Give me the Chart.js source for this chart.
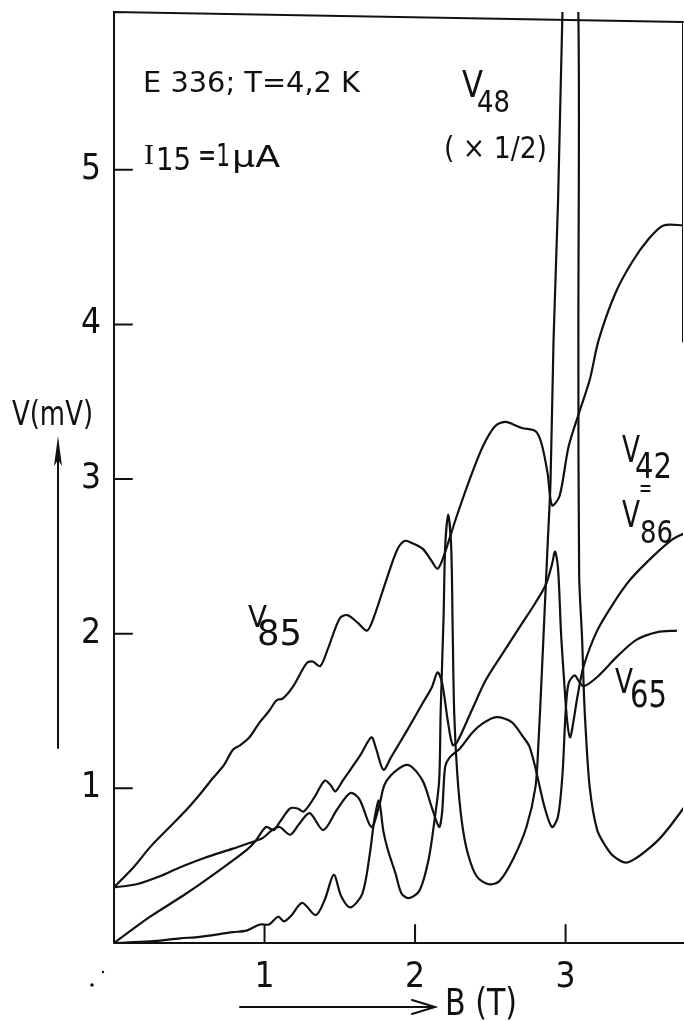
<!DOCTYPE html>
<html>
<head>
<meta charset="utf-8">
<script src="https://cdn.jsdelivr.net/npm/chart.js@4.4.1/dist/chart.umd.min.js"></script>
<style>
  html, body { margin: 0; padding: 0; background: #fff; }
  #wrap { width: 684px; height: 1021px; }
</style>
</head>
<body>
<div id="wrap"><canvas id="hallChart" width="684" height="1021"></canvas></div>
<script>
const FONT = '"Liberation Sans Narrow", "DejaVu Sans Condensed", "Roboto Condensed", "Liberation Sans", sans-serif';
const SERIF = '"Liberation Serif", "DejaVu Serif", serif';
const INK = "#111";

// tick values
const xTicks = [1, 2, 3];
const yTicks = [1, 2, 3, 4, 5];

// V85
const v85B = [0, 0.13, 0.24, 0.36, 0.48, 0.57, 0.66, 0.73, 0.79, 0.84, 0.90, 0.97, 1.03, 1.08, 1.12, 1.19, 1.28, 1.32, 1.37, 1.42, 1.50, 1.55, 1.62, 1.68, 1.72, 1.81, 1.88, 1.93, 1.97, 2.05, 2.11, 2.15, 2.19, 2.27, 2.36, 2.45, 2.53, 2.60, 2.66, 2.71, 2.80, 2.84, 2.88, 2.91, 2.96, 3.02, 3.09, 3.16, 3.22, 3.33, 3.44, 3.55, 3.65, 3.79];
const v85V = [0.36, 0.49, 0.62, 0.74, 0.86, 0.96, 1.07, 1.15, 1.25, 1.28, 1.33, 1.43, 1.50, 1.57, 1.58, 1.66, 1.81, 1.82, 1.79, 1.90, 2.10, 2.12, 2.07, 2.02, 2.09, 2.35, 2.54, 2.60, 2.59, 2.55, 2.47, 2.42, 2.50, 2.74, 2.99, 3.21, 3.34, 3.37, 3.35, 3.33, 3.31, 3.23, 3.04, 2.83, 2.89, 3.21, 3.43, 3.64, 3.90, 4.20, 4.40, 4.55, 4.64, 4.64];

// V48 (x 1/2)
const v48B = [0, 0.24, 0.44, 0.57, 0.79, 0.88, 0.97, 1.03, 1.09, 1.13, 1.18, 1.25, 1.34, 1.40, 1.46, 1.51, 1.57, 1.65, 1.70, 1.73, 1.76, 1.79, 1.82, 1.87, 1.91, 1.96, 2.03, 2.09, 2.13, 2.16, 2.17, 2.19, 2.20, 2.22, 2.24, 2.25, 2.26, 2.28, 2.31, 2.35, 2.41, 2.49, 2.56, 2.65, 2.74, 2.80, 2.82, 2.84, 2.86, 2.88, 2.90, 2.92, 2.95, 2.98, 3.03, 3.085, 3.085, 3.09, 3.11, 3.12, 3.13, 3.16, 3.21, 3.27, 3.32, 3.40, 3.47, 3.54, 3.62, 3.69, 3.79];
const v48V = [0, 0.01, 0.03, 0.04, 0.07, 0.08, 0.12, 0.12, 0.17, 0.14, 0.18, 0.26, 0.18, 0.28, 0.44, 0.30, 0.23, 0.32, 0.58, 0.80, 0.92, 0.72, 0.60, 0.45, 0.32, 0.29, 0.34, 0.54, 0.80, 1.05, 1.49, 2.13, 2.56, 2.77, 2.56, 2.02, 1.49, 1.10, 0.79, 0.58, 0.43, 0.38, 0.40, 0.54, 0.75, 1.01, 1.30, 1.70, 2.13, 2.56, 2.99, 3.90, 4.80, 6.05, 7.60, 6.00, 3.90, 2.39, 1.96, 1.66, 1.44, 1.01, 0.73, 0.62, 0.56, 0.52, 0.55, 0.60, 0.67, 0.75, 0.88];

// V42 = V86
const v42B = [0, 0.24, 0.48, 0.70, 0.88, 0.94, 1.01, 1.06, 1.10, 1.17, 1.22, 1.26, 1.33, 1.40, 1.44, 1.47, 1.52, 1.57, 1.64, 1.71, 1.74, 1.79, 1.84, 1.95, 2.05, 2.11, 2.15, 2.18, 2.22, 2.25, 2.28, 2.37, 2.47, 2.58, 2.70, 2.80, 2.87, 2.91, 2.93, 2.95, 2.97, 2.99, 3.01, 3.03, 3.05, 3.08, 3.12, 3.21, 3.32, 3.43, 3.58, 3.71, 3.79];
const v42V = [0, 0.17, 0.32, 0.47, 0.60, 0.66, 0.75, 0.73, 0.78, 0.87, 0.87, 0.85, 0.94, 1.05, 1.02, 0.98, 1.05, 1.12, 1.22, 1.33, 1.26, 1.12, 1.20, 1.38, 1.55, 1.65, 1.75, 1.68, 1.42, 1.28, 1.30, 1.49, 1.70, 1.87, 2.05, 2.20, 2.32, 2.45, 2.53, 2.42, 2.00, 1.70, 1.44, 1.33, 1.42, 1.60, 1.79, 2.02, 2.20, 2.35, 2.50, 2.61, 2.65];

// V65
const v65B = [0, 0.15, 0.30, 0.44, 0.60, 0.79, 0.88, 0.94, 0.99, 1.05, 1.10, 1.17, 1.23, 1.30, 1.39, 1.48, 1.57, 1.63, 1.71, 1.76, 1.80, 1.88, 1.96, 2.05, 2.11, 2.16, 2.18, 2.20, 2.23, 2.30, 2.38, 2.45, 2.54, 2.64, 2.72, 2.76, 2.80, 2.86, 2.91, 2.95, 2.98, 3.00, 3.02, 3.06, 3.09, 3.12, 3.21, 3.34, 3.47, 3.61, 3.74];
const v65V = [0.36, 0.38, 0.43, 0.49, 0.55, 0.61, 0.64, 0.66, 0.68, 0.73, 0.75, 0.70, 0.77, 0.84, 0.73, 0.86, 0.97, 0.93, 0.75, 0.88, 1.03, 1.12, 1.15, 1.05, 0.88, 0.75, 0.85, 1.14, 1.20, 1.26, 1.36, 1.42, 1.46, 1.43, 1.33, 1.27, 1.13, 0.88, 0.75, 0.82, 1.10, 1.49, 1.68, 1.73, 1.69, 1.66, 1.72, 1.85, 1.96, 2.01, 2.02];

function toPoints(bs, vs) {
  return bs.map((b, i) => ({ x: b, y: vs[i] }));
}

function trace(label, bs, vs) {
  return {
    label,
    data: toPoints(bs, vs),
    borderColor: INK,
    borderWidth: 2.2,
    pointRadius: 0,
    tension: 0.3,
    fill: false,
  };
}

function fitText(ctx, text, x, baseline, size, width, family) {
  ctx.font = `${size}px ${family || FONT}`;
  const w = ctx.measureText(text).width;
  ctx.save();
  ctx.translate(x, baseline);
  ctx.scale(width / w, 1);
  ctx.fillText(text, 0, 0);
  ctx.restore();
}

function noPadding(scale) {
  scale.paddingTop = 0;
  scale.paddingBottom = 0;
  scale.paddingLeft = 0;
  scale.paddingRight = 0;
}

const framePlugin = {
  id: "frame",
  afterDraw(chart) {
    const { ctx, chartArea: area } = chart;
    const xs = chart.scales.x;
    const ys = chart.scales.y;
    ctx.save();
    ctx.strokeStyle = INK;
    ctx.fillStyle = INK;
    ctx.lineCap = "round";

    // box (top edge is slightly skewed in the scan)
    ctx.lineWidth = 2;
    ctx.beginPath();
    ctx.moveTo(area.left, area.bottom);
    ctx.lineTo(area.left, area.top);
    ctx.lineTo(area.right, area.top + 10);
    ctx.moveTo(area.left, area.bottom);
    ctx.lineTo(area.right + 1, area.bottom);
    ctx.stroke();
    ctx.lineWidth = 1;
    ctx.beginPath();
    ctx.moveTo(area.right - 0.5, area.top + 10);
    ctx.lineTo(area.right - 0.5, area.top + 330);
    ctx.stroke();

    // inward tick marks
    ctx.lineWidth = 2;
    ctx.beginPath();
    yTicks.forEach((v) => {
      const py = ys.getPixelForValue(v);
      ctx.moveTo(area.left, py);
      ctx.lineTo(area.left + 18, py);
    });
    xTicks.forEach((v) => {
      const px = xs.getPixelForValue(v);
      ctx.moveTo(px, area.bottom);
      ctx.lineTo(px, area.bottom - 18);
    });
    ctx.stroke();

    // annotations
    ctx.textAlign = "left";
    ctx.textBaseline = "alphabetic";
    fitText(ctx, "E 336; T=4,2 K", 143, 92, 28, 217);
    fitText(ctx, "I", 144, 164, 29, 10, SERIF);
    fitText(ctx, "15", 156, 170, 32, 35);
    fitText(ctx, "=1", 198, 166, 32, 32);
    fitText(ctx, "\u03bcA", 232, 167, 30, 48);

    fitText(ctx, "V", 462, 97, 37, 21);
    fitText(ctx, "48", 477, 112, 31, 33);
    fitText(ctx, "( \u00d7 1/2)", 444, 158, 30, 103);

    fitText(ctx, "V", 248, 627, 31, 19);
    fitText(ctx, "85", 257, 645, 36, 45);

    fitText(ctx, "V", 622, 462, 37, 18);
    fitText(ctx, "42", 635, 478, 35, 37);
    fitText(ctx, "=", 639, 496, 24, 13);
    fitText(ctx, "V", 622, 527, 37, 18);
    fitText(ctx, "86", 640, 543, 32, 33);

    fitText(ctx, "V", 615, 693, 34, 18);
    fitText(ctx, "65", 630, 707, 37, 37);

    // axis titles and arrows
    fitText(ctx, "V(mV)", 12, 425, 34, 81);
    fitText(ctx, "B (T)", 445, 1015, 37, 72);

    ctx.lineWidth = 2;
    ctx.beginPath();
    ctx.moveTo(58, 748);
    ctx.lineTo(58, 450);
    ctx.moveTo(240, 1007);
    ctx.lineTo(435, 1007);
    ctx.moveTo(412, 1000);
    ctx.lineTo(435, 1007);
    ctx.lineTo(412, 1014);
    ctx.stroke();
    ctx.beginPath();
    ctx.moveTo(58, 436);
    ctx.lineTo(54, 466);
    ctx.lineTo(58, 460);
    ctx.lineTo(62, 466);
    ctx.closePath();
    ctx.fill();

    // specks in the scan
    ctx.beginPath();
    ctx.arc(92, 985, 1.8, 0, Math.PI * 2);
    ctx.arc(103, 972, 1.2, 0, Math.PI * 2);
    ctx.fill();
    ctx.restore();
  },
};

new Chart(document.getElementById("hallChart"), {
  type: "line",
  data: {
    datasets: [
      trace("V85", v85B, v85V),
      trace("V48 (x1/2)", v48B, v48V),
      trace("V42 = V86", v42B, v42V),
      trace("V65", v65B, v65V),
    ],
  },
  options: {
    responsive: false,
    animation: false,
    devicePixelRatio: 1,
    layout: { padding: { top: 12, right: 1, left: 0, bottom: 0 } },
    plugins: {
      legend: { display: false },
      tooltip: { enabled: false },
    },
    scales: {
      x: {
        type: "linear",
        min: 0,
        max: 3.78,
        afterFit: (scale) => {
          scale.height = 78;
          noPadding(scale);
        },
        afterBuildTicks: (scale) => {
          scale.ticks = xTicks.map((v) => ({ value: v }));
        },
        grid: { display: false, drawTicks: false },
        border: { display: false },
        ticks: {
          color: INK,
          padding: 14,
          maxRotation: 0,
          font: { family: FONT, size: 35 },
        },
      },
      y: {
        type: "linear",
        min: 0,
        max: 6.02,
        afterFit: (scale) => {
          scale.width = 114;
          noPadding(scale);
        },
        afterBuildTicks: (scale) => {
          scale.ticks = yTicks.map((v) => ({ value: v }));
        },
        grid: { display: false, drawTicks: false },
        border: { display: false },
        ticks: {
          color: INK,
          padding: 13,
          font: { family: FONT, size: 35 },
        },
      },
    },
  },
  plugins: [framePlugin],
});
</script>
</body>
</html>
